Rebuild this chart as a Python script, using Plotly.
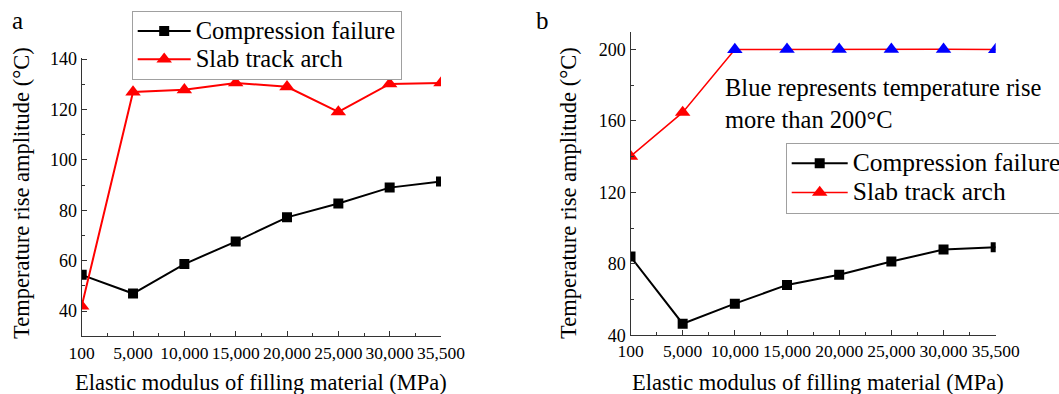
import plotly.graph_objects as go

categories = ["100", "5,000", "10,000", "15,000", "20,000", "25,000", "30,000", "35,500"]

a_compression = [54.4, 47.0, 58.7, 67.6, 77.2, 82.7, 89.0, 91.4]
a_slab = [42.0, 126.9, 127.8, 130.5, 129.0, 119.0, 130.1, 130.5]

b_compression = [84.1, 46.5, 57.7, 68.2, 73.9, 81.3, 88.0, 89.3]
b_slab = [140.2, 164.8, 200.0, 200.1, 200.1, 200.1, 200.1, 200.0]

series_names = ["Compression failure", "Slab track arch"]

W, H = 1059, 394
FONT = "Liberation Serif"
idx = list(range(len(categories)))

def px_x(p):
    return p / W

def px_y(p):
    return 1 - p / H

def legend_label(name, size):
    return '<span style="font-size:%spx">%s</span>' % (size, name)

fig = go.Figure()

fig.add_trace(go.Scatter(x=idx, y=a_compression, name=legend_label(series_names[0], 24.5),
                         mode="lines+markers", line=dict(color="black", width=2),
                         marker=dict(symbol="square", size=10, color="black"),
                         xaxis="x", yaxis="y", legend="legend"))
fig.add_trace(go.Scatter(x=idx, y=a_slab, name=legend_label(series_names[1], 24.5),
                         mode="lines+markers", line=dict(color="#ff0000", width=2),
                         marker=dict(symbol="triangle-up", size=13.5, color="#ff0000"),
                         xaxis="x", yaxis="y", legend="legend"))

b_colors = ["#0000ff" if v >= 200 else "#ff0000" for v in b_slab]
fig.add_trace(go.Scatter(x=idx, y=b_compression, name=legend_label(series_names[0], 25.5),
                         mode="lines+markers", line=dict(color="black", width=2),
                         marker=dict(symbol="square", size=10, color="black"),
                         xaxis="x2", yaxis="y2", legend="legend2"))
fig.add_trace(go.Scatter(x=idx, y=b_slab, name=legend_label(series_names[1], 25.5),
                         mode="lines+markers", line=dict(color="#ff0000", width=1.5),
                         marker=dict(symbol="triangle-up", size=13.5, color=b_colors),
                         xaxis="x2", yaxis="y2", legend="legend2"))

axis_common = dict(showline=True, linecolor="#333333", linewidth=1.3, mirror=False,
                   showgrid=False, zeroline=False, ticks="inside", ticklen=5,
                   tickwidth=1.2, tickcolor="#333333", automargin=False)

xcommon = dict(axis_common, tickmode="array", tickvals=idx, ticktext=categories,
               range=[0, len(categories) - 1], tickangle=0,
               tickfont=dict(family=FONT, size=17.5, color="black"),
               minor=dict(ticks="inside", ticklen=3, tickcolor="#333333", dtick=0.5, tick0=0,
                          showgrid=False))

legend_common = dict(xanchor="left", yanchor="top", bgcolor="white",
                     bordercolor="#a0a0a0", borderwidth=1, tracegroupgap=0)

fig.update_layout(
    width=W, height=H, margin=dict(l=0, r=0, t=0, b=0, autoexpand=False),
    paper_bgcolor="white", plot_bgcolor="white",
    font=dict(family=FONT, color="black"),
    xaxis=dict(xcommon, domain=[px_x(81.7), px_x(441)], anchor="y"),
    yaxis=dict(axis_common, domain=[px_y(336.4), px_y(58)], anchor="x",
               range=[30, 140.4], tickvals=[40, 60, 80, 100, 120, 140],
               tickfont=dict(family=FONT, size=18, color="black"),
               minor=dict(ticks="inside", ticklen=3, tickcolor="#333333", dtick=10, tick0=0)),
    xaxis2=dict(xcommon, domain=[px_x(630.5), px_x(995.7)], anchor="y2"),
    yaxis2=dict(axis_common, domain=[px_y(335.3), px_y(32)], anchor="x2",
                range=[40, 209.8], tickvals=[40, 80, 120, 160, 200],
                tickfont=dict(family=FONT, size=18, color="black"),
                minor=dict(ticks="inside", ticklen=3, tickcolor="#333333", dtick=20, tick0=0)),
    legend=dict(legend_common, x=px_x(131.7), y=px_y(11), itemwidth=53,
                font=dict(family=FONT, size=19.3, color="black")),
    legend2=dict(legend_common, x=px_x(785.7), y=px_y(142.5), itemwidth=56,
                 font=dict(family=FONT, size=20.2, color="black")),
    showlegend=True,
)

def ann(text, x, y, size, **kw):
    d = dict(text=text, x=px_x(x), y=px_y(y), xref="paper", yref="paper",
             xanchor="center", yanchor="middle", showarrow=False,
             font=dict(family=FONT, size=size, color="black"))
    d.update(kw)
    return d

annotations = [
    ann("a", 17, 21, 25),
    ann("b", 542, 20, 25),
    ann("Elastic modulus of filling material (MPa)", 261, 382, 22.5),
    ann("Elastic modulus of filling material (MPa)", 818, 382, 22.5),
    ann("Temperature rise amplitude (°C)", 21, 193, 22.5, textangle=-90),
    ann("Temperature rise amplitude (°C)", 568, 193, 22.5, textangle=-90),
    ann("Blue represents temperature rise<br>more than 200°C", 723, 103, 24.5,
        xanchor="left", align="left"),
]
fig.update_layout(annotations=annotations)

fig.write_html("out.html")
